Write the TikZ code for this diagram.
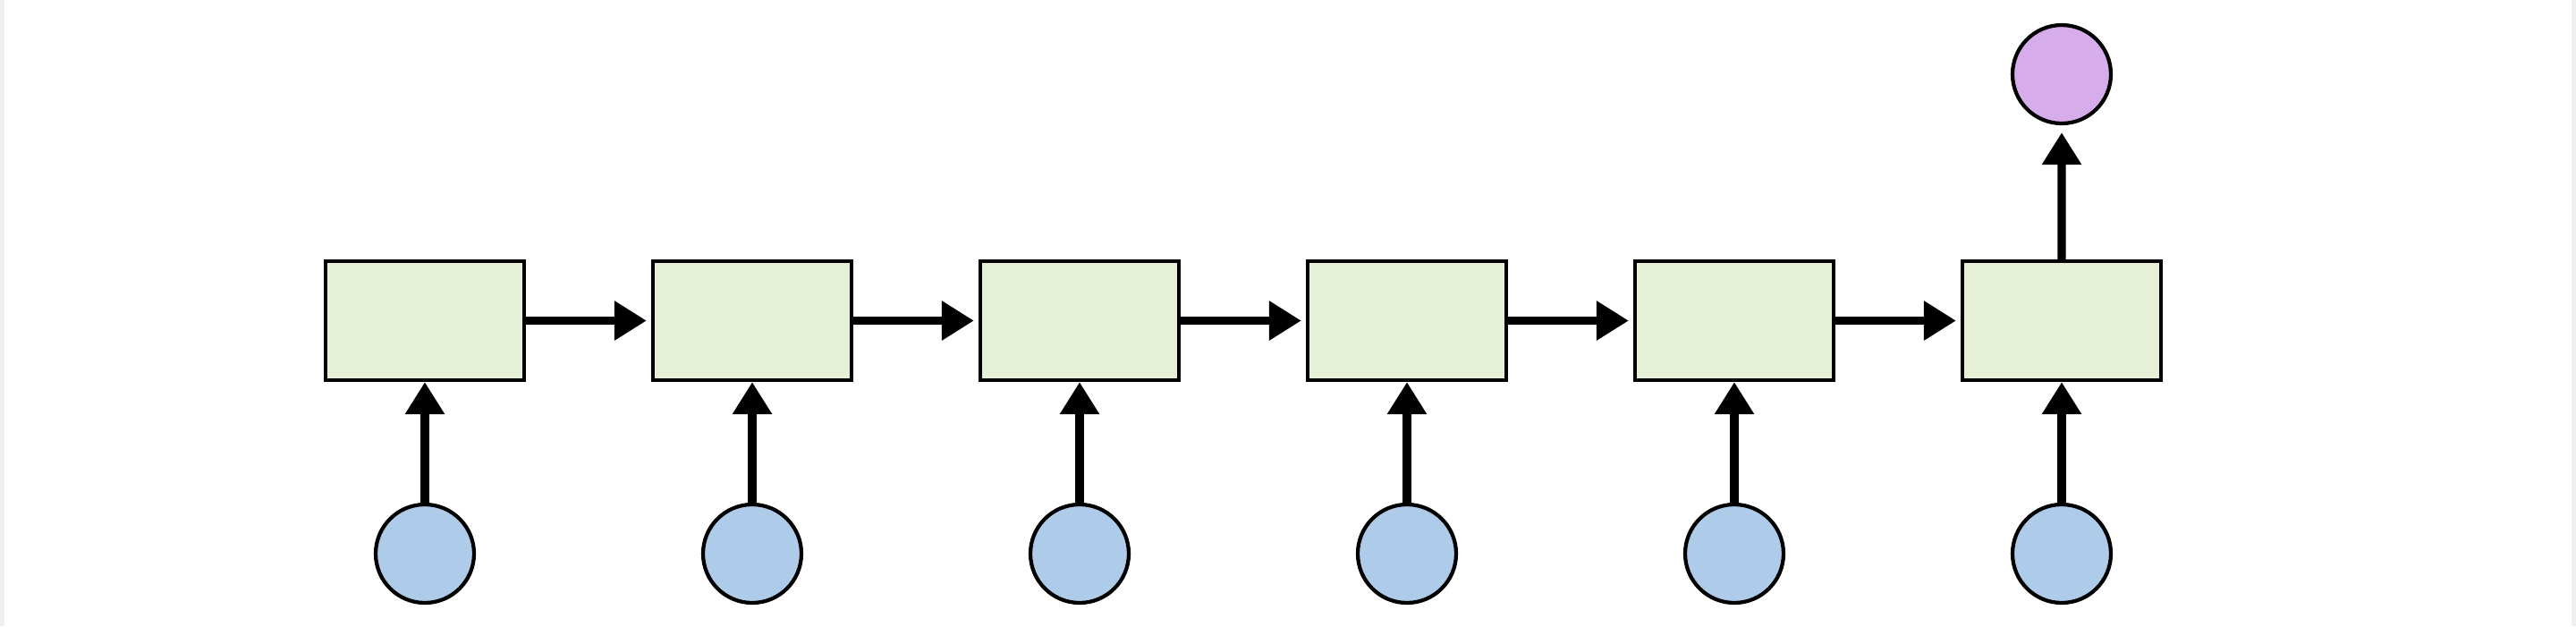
\documentclass[tikz,border=0pt]{standalone}
\usepackage{xcolor}
\usepackage{tikz}
\usetikzlibrary{arrows.meta,positioning}

\definecolor{cellgreen}{HTML}{E6F0D6}
\definecolor{inblue}{HTML}{AECBEA}
\definecolor{outpurple}{HTML}{D6ACEB}

\begin{document}
\begin{tikzpicture}[>={Triangle[length=3.6mm,width=4.2mm]},
  cell/.style={draw,line width=1.2pt,fill=cellgreen,minimum width=2.22cm,minimum height=1.33cm,inner sep=0pt},
  unit/.style={circle,draw,line width=1.2pt,minimum size=1.10cm,inner sep=0pt},
  link/.style={->,line width=2.6pt}]

\useasboundingbox (0,0) rectangle (28.8,7);
% faint frame edges
\draw[gray!12,line width=1.5pt] (0.02,0) -- (0.02,7);
\draw[gray!12,line width=1.5pt] (28.78,0) -- (28.78,7);

% --- chain of cells, each fed by an input ---
\foreach \i in {0,...,5} {
  \node[cell] (c\i) at (4.75+3.66*\i,3.415) {};
  \node[unit,fill=inblue] (x\i) at (4.75+3.66*\i,0.81) {};
  \draw[link] (x\i) -- (c\i);
}

% links between cells
\foreach \i [count=\j] in {0,...,4}
  \draw[link,shorten >=0.5mm] (c\i) -- (c\j);

% --- output of the last cell ---
\node[unit,fill=outpurple] (h) at (23.05,6.17) {};
\draw[link,shorten >=0.8mm] (c5) -- (h);

\end{tikzpicture}
\end{document}
